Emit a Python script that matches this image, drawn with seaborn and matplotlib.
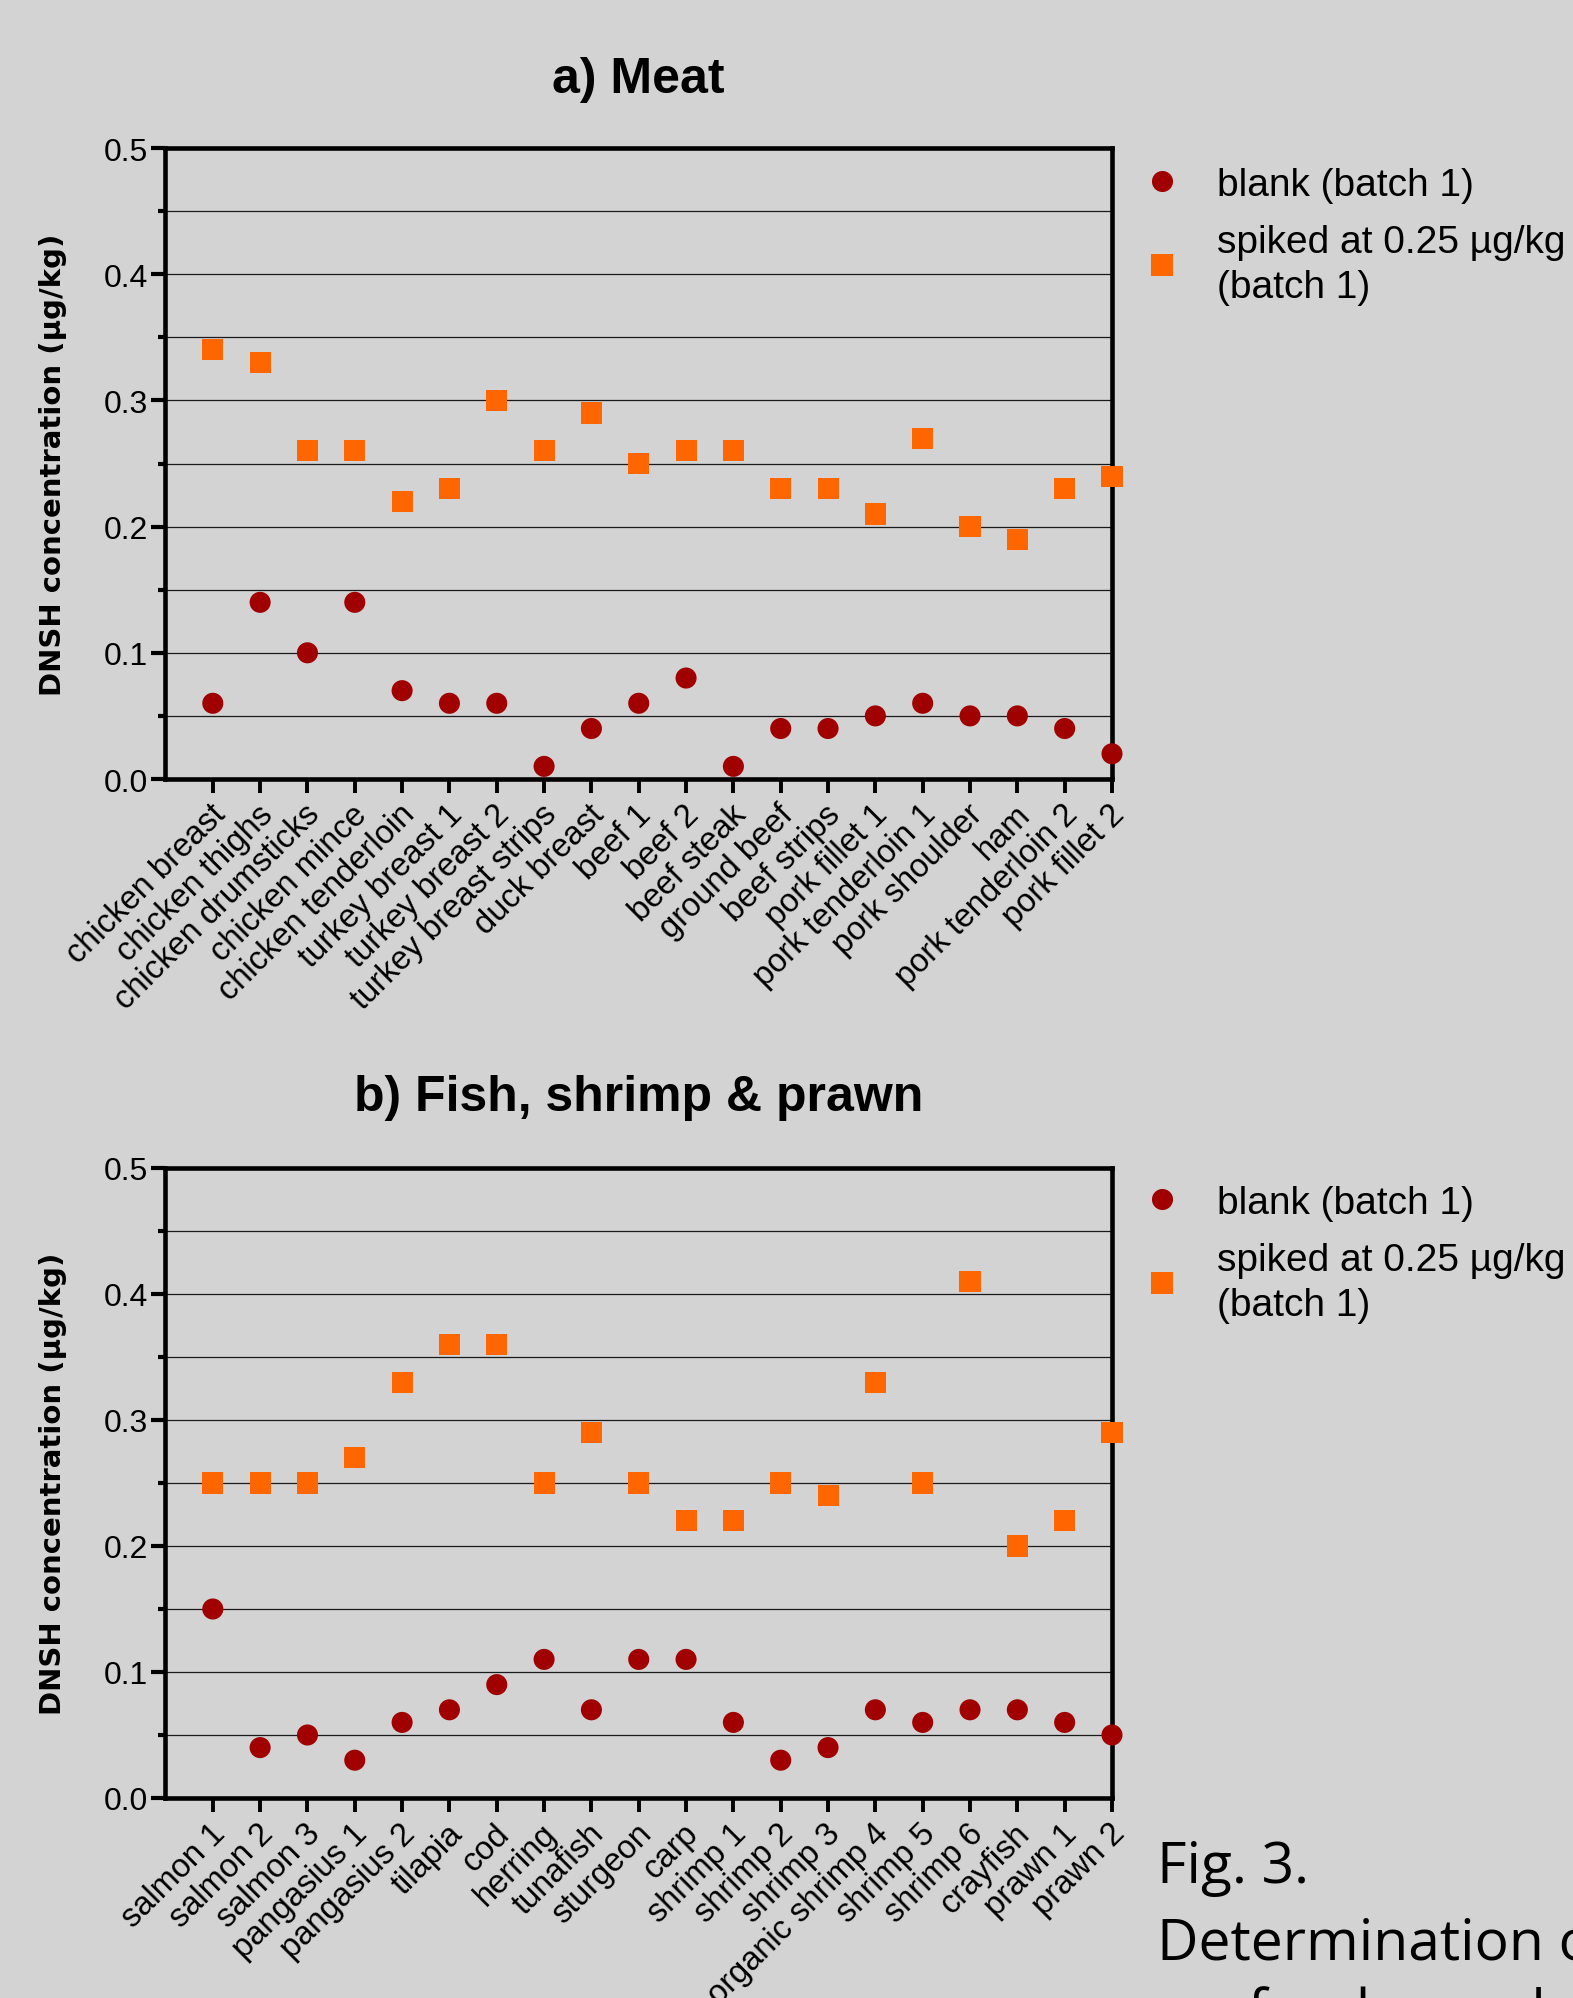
import numpy as np
import pandas as pd
import matplotlib
matplotlib.use("Agg")
import matplotlib.pyplot as plt
import matplotlib.transforms as mtransforms
from matplotlib.ticker import MultipleLocator
import seaborn as sns

# ---------------- data ----------------
meat_samples = ["chicken breast", "chicken thighs", "chicken drumsticks", "chicken mince",
                "chicken tenderloin", "turkey breast 1", "turkey breast 2", "turkey breast strips",
                "duck breast", "beef 1", "beef 2", "beef steak", "ground beef", "beef strips",
                "pork fillet 1", "pork tenderloin 1", "pork shoulder", "ham",
                "pork tenderloin 2", "pork fillet 2"]
meat_blank = [0.06, 0.14, 0.10, 0.14, 0.07, 0.06, 0.06, 0.01, 0.04, 0.06,
              0.08, 0.01, 0.04, 0.04, 0.05, 0.06, 0.05, 0.05, 0.04, 0.02]
meat_spiked = [0.34, 0.33, 0.26, 0.26, 0.22, 0.23, 0.30, 0.26, 0.29, 0.25,
               0.26, 0.26, 0.23, 0.23, 0.21, 0.27, 0.20, 0.19, 0.23, 0.24]

fish_samples = ["salmon 1", "salmon 2", "salmon 3", "pangasius 1", "pangasius 2", "tilapia",
                "cod", "herring", "tunafish", "sturgeon", "carp", "shrimp 1", "shrimp 2",
                "shrimp 3", "organic shrimp 4", "shrimp 5", "shrimp 6", "crayfish",
                "prawn 1", "prawn 2"]
fish_blank = [0.15, 0.04, 0.05, 0.03, 0.06, 0.07, 0.09, 0.11, 0.07, 0.11,
              0.11, 0.06, 0.03, 0.04, 0.07, 0.06, 0.07, 0.07, 0.06, 0.05]
fish_spiked = [0.25, 0.25, 0.25, 0.27, 0.33, 0.36, 0.36, 0.25, 0.29, 0.25,
               0.22, 0.22, 0.25, 0.24, 0.33, 0.25, 0.41, 0.20, 0.22, 0.29]

series_labels = ["blank (batch 1)", "spiked at 0.25 \u00b5g/kg\n(batch 1)"]
panel_titles = ["a) Meat", "b) Fish, shrimp & prawn"]
y_label = "DNSH concentration (\u00b5g/kg)"
caption_lines = ["Fig. 3.", "Determination of DNSH in meat and", "seafood samples"]

# ---------------- style ----------------
BG = "#D3D3D3"
sns.set_theme(style="white", rc={"axes.facecolor": BG, "figure.facecolor": BG,
                                 "savefig.facecolor": BG, "text.color": "black",
                                 "axes.labelcolor": "black", "xtick.color": "black",
                                 "ytick.color": "black"})
plt.rcParams["font.family"] = ["Liberation Sans", "DejaVu Sans"]

W, H = 1573, 1999
fig = plt.figure(figsize=(W / 100, H / 100), dpi=100)

def px_rect(left, top, right, bottom):
    return [left / W, 1 - bottom / H, (right - left) / W, (bottom - top) / H]

axes_px = [(165, 149, 1112, 780), (165, 1169, 1112, 1799)]
title_y = [80, 1098]
legend_top = [168, 1186]

panels = [(meat_samples, meat_blank, meat_spiked), (fish_samples, fish_blank, fish_spiked)]

for i, (samples, blank, spiked) in enumerate(panels):
    ax = fig.add_axes(px_rect(*axes_px[i]))
    df = pd.DataFrame({
        "sample": samples + samples,
        "value": blank + spiked,
        "series": [series_labels[0]] * len(samples) + [series_labels[1]] * len(samples),
    })
    sns.scatterplot(data=df, x="sample", y="value", hue="series", style="series",
                    palette=["#A00000", "#FF6600"], markers=["o", "s"], s=230,
                    linewidth=0, ax=ax, zorder=5, clip_on=False)
    ax.set_xlim(-1.01, len(samples) - 1)
    ax.set_ylim(0, 0.5)
    ax.yaxis.set_major_locator(MultipleLocator(0.1))
    ax.yaxis.set_minor_locator(MultipleLocator(0.05))
    ax.yaxis.set_major_formatter(matplotlib.ticker.FormatStrFormatter("%.1f"))
    ax.grid(False)
    ax.yaxis.grid(True, which="both", color="#1a1a1a", linewidth=0.9, zorder=1)
    ax.set_axisbelow(True)
    for sp in ax.spines.values():
        sp.set_visible(True)
        sp.set_color("black")
        sp.set_linewidth(3.3)
        sp.set_zorder(4)
    ax.tick_params(axis="y", which="major", left=True, length=10, width=3, color="black",
                   labelsize=23, pad=2, labelcolor="black")
    ax.tick_params(axis="y", which="minor", left=True, length=5, width=3, color="black")
    ax.tick_params(axis="x", which="major", bottom=True, length=10, width=2.8, color="black",
                   labelsize=23.5, pad=4, labelcolor="black")
    offset = mtransforms.ScaledTranslation(-3 / 100, 0, fig.dpi_scale_trans)
    for lab in ax.get_xticklabels():
        lab.set_rotation(45)
        lab.set_ha("right")
        lab.set_va("top")
        lab.set_rotation_mode("anchor")
        lab.set_transform(lab.get_transform() + offset)
    ax.set_xlabel("")
    ax.set_ylabel(y_label, fontsize=21, fontweight="bold", family="DejaVu Sans", color="black")
    ax.yaxis.set_label_coords(-0.1036, 0.5)

    cx = (axes_px[i][0] + axes_px[i][2]) / 2
    fig.text(cx / W, 1 - title_y[i] / H, panel_titles[i], fontsize=36, fontweight="bold",
             ha="center", va="center", color="black")

    sns.move_legend(ax, loc="upper left", bbox_to_anchor=(1143 / W, 1 - legend_top[i] / H),
                    bbox_transform=fig.transFigure, frameon=False, title=None,
                    fontsize=28, handlelength=1.0, handletextpad=0.9, labelspacing=0.55,
                    borderpad=0, borderaxespad=0)
    for t in ax.get_legend().get_texts():
        t.set_linespacing(1.3)
        t.set_color("black")

cap_font = dict(family=["Open Sans", "DejaVu Sans"], fontsize=41, color="black",
                va="baseline", ha="left")
fig.text(1157 / W, 1 - 1883 / H, caption_lines[0], **cap_font)
fig.text(1157 / W, 1 - 1961 / H, caption_lines[1], **cap_font)
fig.text(1157 / W, 1 - 2030 / H, caption_lines[2], **cap_font)

fig.savefig("out.png", dpi=100, facecolor=BG)
